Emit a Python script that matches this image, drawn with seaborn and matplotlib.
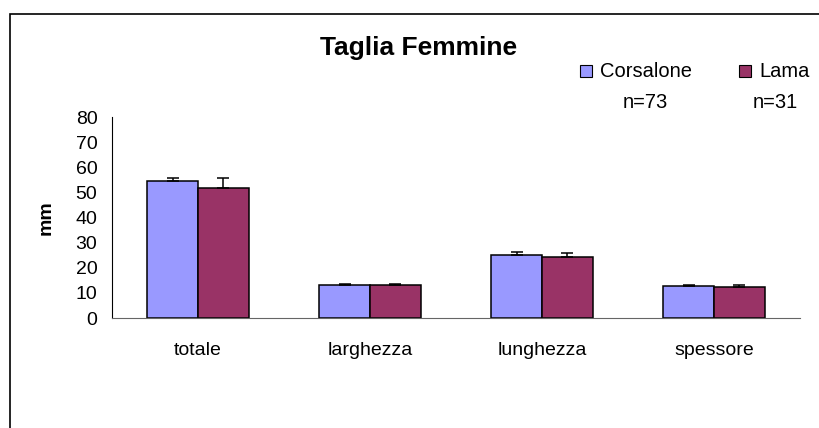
import pandas as pd
import numpy as np
import matplotlib
matplotlib.use('Agg')
import matplotlib.pyplot as plt
import seaborn as sns
from matplotlib.patches import Rectangle

# data (mm)
categorie = ['totale', 'larghezza', 'lunghezza', 'spessore']
corsalone = [54.4, 13.0, 25.1, 12.9]
lama = [51.6, 13.0, 24.4, 12.2]
err_corsalone = [1.4, 0.5, 1.3, 0.1]
err_lama = [4.2, 0.5, 1.5, 0.8]
gruppi = ['Corsalone', 'Lama']
n_gruppi = ['n=73', 'n=31']
colori = ['#9999FF', '#993366']

df = pd.DataFrame({
    'categoria': categorie * 2,
    'gruppo': [gruppi[0]] * 4 + [gruppi[1]] * 4,
    'mm': corsalone + lama,
    'err': err_corsalone + err_lama,
})

sns.set_style('white')
plt.rcParams['font.family'] = ['Liberation Sans', 'DejaVu Sans']
plt.rcParams['text.color'] = 'black'
plt.rcParams['axes.labelcolor'] = 'black'
plt.rcParams['xtick.color'] = 'black'
plt.rcParams['ytick.color'] = 'black'

fig = plt.figure(figsize=(8.2, 4.28), dpi=100)
ax = fig.add_axes([0.1366, 0.257, 0.839, 0.4696])

sns.barplot(data=df, x='categoria', y='mm', hue='gruppo', palette=colori,
            width=0.59, edgecolor='black', linewidth=1.1, errorbar=None,
            saturation=1, ax=ax, legend=False)

# plus-only error bars on top of each bar
for cont, (_, sub) in zip(ax.containers, df.groupby('gruppo', sort=False)):
    xs = [p.get_x() + p.get_width() / 2 for p in cont.patches]
    ys = [p.get_height() for p in cont.patches]
    e = sub['err'].values
    ax.errorbar(xs, ys, yerr=[np.zeros_like(e), e], fmt='none',
                ecolor='black', elinewidth=1.1, capsize=4, capthick=1.1)

ax.set_ylim(0, 80)
ax.set_xlim(-0.5, 3.5)
ax.set_yticks(range(0, 81, 10))
ax.set_xticks([-0.5, 0.5, 1.5, 2.5, 3.5])
ax.set_xticklabels([])
ax.set_xticks(range(4), minor=True)
ax.set_xticklabels(categorie, minor=True)
ax.tick_params(axis='x', which='major', direction='out', length=5,
               width=0.8, color='#444444')
ax.tick_params(axis='x', which='minor', length=0, pad=17, labelsize=14)
ax.tick_params(axis='y', direction='out', length=4.5, width=0.8,
               color='black', labelsize=14, pad=6)
ax.set_xlabel('')
ax.set_ylabel('mm', fontsize=14, fontweight='bold', labelpad=15)

for s in ['top', 'right']:
    ax.spines[s].set_visible(False)
ax.spines['left'].set_color('black')
ax.spines['left'].set_linewidth(0.8)
ax.spines['bottom'].set_color('#666666')
ax.spines['bottom'].set_linewidth(0.8)

fig.text(0.511, 0.888, 'Taglia Femmine', ha='center', va='center',
         fontsize=19, fontweight='bold')

# legend drawn as figure text
leg_x = [0.714, 0.9085]
n_x = [0.787, 0.945]
for x, nx, nome, n, c in zip(leg_x, n_x, gruppi, n_gruppi, colori):
    fig.patches.append(Rectangle((x - 0.007, 0.82), 0.0145, 0.028,
                                 transform=fig.transFigure, facecolor=c,
                                 edgecolor='black', linewidth=0.8))
    fig.text(x + 0.0175, 0.834, nome, ha='left', va='center', fontsize=14.5)
    fig.text(nx, 0.76, n, ha='center', va='center', fontsize=14.5)

# chart area border
fig.patches.append(Rectangle((0.0125, -0.1), 1.1, 1.067,
                             transform=fig.transFigure, fill=False,
                             edgecolor='black', linewidth=1.2))

fig.savefig('out.png', dpi=100)
